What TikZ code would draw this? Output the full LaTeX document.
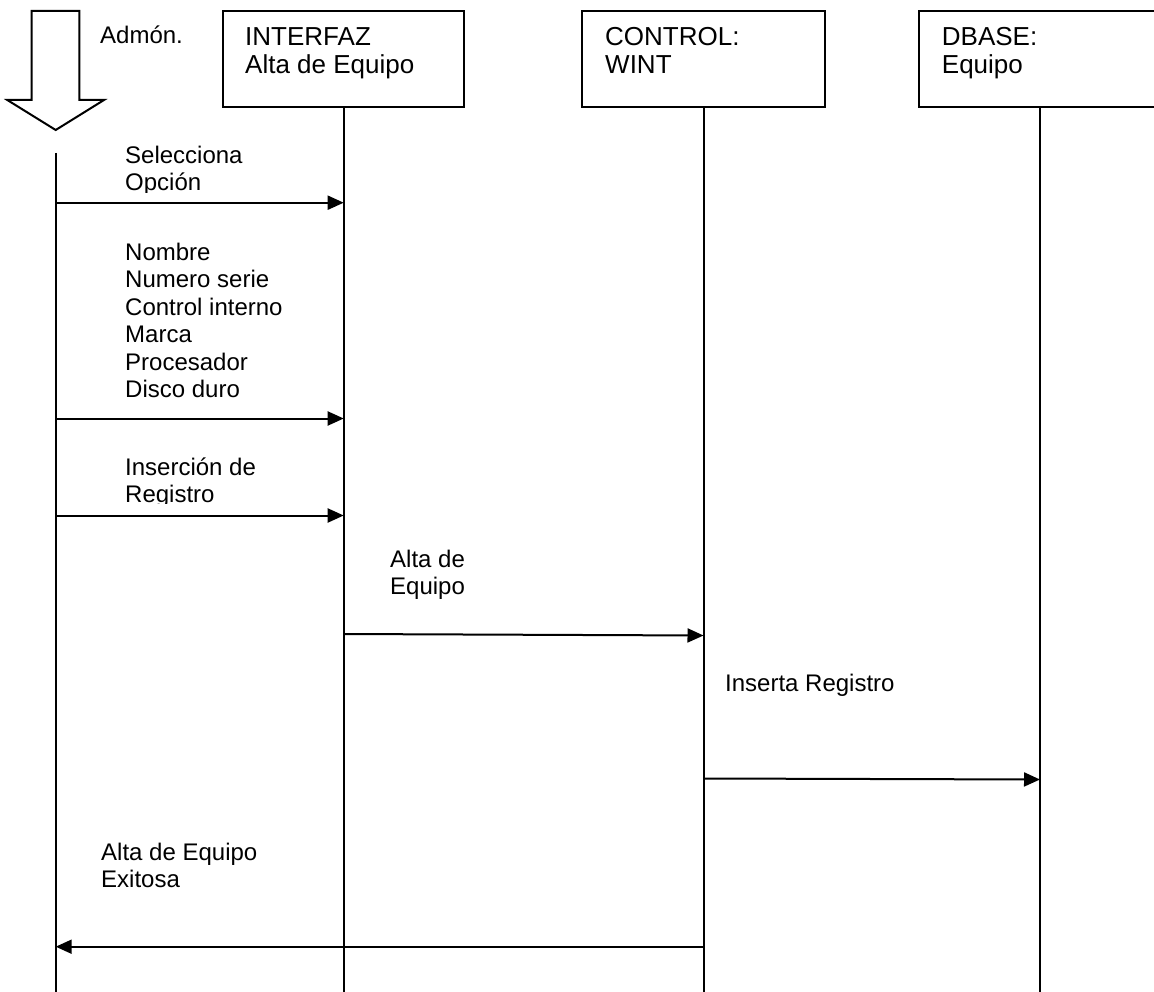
\documentclass[tikz,border=0pt]{standalone}
\usepackage{fontspec}
\setmainfont{Liberation Sans}
\usetikzlibrary{arrows.meta}
\begin{document}
\begin{tikzpicture}[x=1pt,y=-1pt,
  lifeline/.style={line width=2pt},
  objbox/.style={draw, line width=2pt, minimum height=96pt, inner sep=0pt},
  % multi-line labels: the base anchor sits on the last line
  boxtxt/.style={anchor=base west, align=left, inner sep=0pt, font=\fontsize{26}{28}\selectfont},
  msgtxt/.style={anchor=base west, align=left, inner sep=0pt, font=\fontsize{24}{27.5}\selectfont},
  msg/.style={line width=2pt, -{Triangle[length=16pt,width=14pt]}}]
\useasboundingbox (0,0) rectangle (1154,992);

% actor: block arrow and its label
\draw[line width=2pt, line join=miter] (31.7,11) -- (79.3,11) -- (79.3,100) -- (104,100)
  -- (55.7,130) -- (7.3,100) -- (31.7,100) -- cycle;
\node[msgtxt] (admon) at (100,43.3) {Admón.};

% object boxes
\node[objbox, minimum width=241pt] (intf) at (343.7,59) {};
\node[objbox, minimum width=243pt] (ctrl) at (703.5,59) {};
\node[objbox, minimum width=242pt] (dbase) at (1040,59) {};
\node[boxtxt] (intftxt) at (245,74) {INTERFAZ\\Alta de Equipo};
\node[boxtxt] (ctrltxt) at (605,74) {CONTROL:\\WINT};
\node[boxtxt] (dbasetxt) at (941.7,74) {DBASE:\\Equipo};

% lifelines
\coordinate (acttop) at (55.7,153);
\coordinate (actend) at (55.7,992);
\coordinate (intfend) at (343.7,992);
\coordinate (ctrlend) at (703.5,992);
\coordinate (dbaseend) at (1040,992);
\draw[lifeline] (acttop) -- (actend);
\draw[lifeline] (intf.south) -- (intfend);
\draw[lifeline] (ctrl.south) -- (ctrlend);
\draw[lifeline] (dbase.south) -- (dbaseend);

% message end points on the lifelines
\coordinate (m1a) at (55.7,202.7);  \coordinate (m1b) at (343.7,202.7);
\coordinate (m2a) at (55.7,418.5);  \coordinate (m2b) at (343.7,418.5);
\coordinate (m3a) at (55.7,515.5);  \coordinate (m3b) at (343.7,515.5);
\coordinate (m4a) at (343.7,634);   \coordinate (m4b) at (703.5,635.5);
\coordinate (m5a) at (703.5,778.5); \coordinate (m5b) at (1040,779.5);
\coordinate (m6a) at (703.5,946.7); \coordinate (m6b) at (55.7,946.7);

\draw[msg] (m1a) -- (m1b);
\draw[msg] (m2a) -- (m2b);
\draw[msg] (m3a) -- (m3b);
\draw[msg] (m4a) -- (m4b);
\draw[msg] (m5a) -- (m5b);
\draw[msg] (m6a) -- (m6b);

% message labels (text frames cut off at their lower edge)
\begin{scope}
  \clip (100,140) rectangle (330,192.5);
  \node[msgtxt] (l1) at (125,190.8) {Selecciona\\Opción};
\end{scope}
\node[msgtxt] (l2) at (125,397.5) {Nombre\\Numero serie\\Control interno\\Marca\\Procesador\\Disco duro};
\begin{scope}
  \clip (100,440) rectangle (330,503.5);
  \node[msgtxt] (l3) at (125,502.5) {Inserción de\\Registro};
\end{scope}
\begin{scope}
  \clip (370,530) rectangle (690,599.5);
  \node[msgtxt] (l4) at (390,594.8) {Alta de\\Equipo};
\end{scope}
\node[msgtxt] (l5) at (725,691.7) {Inserta Registro};
\node[msgtxt] (l6) at (101,887.5) {Alta de Equipo\\Exitosa};
\end{tikzpicture}
\end{document}
